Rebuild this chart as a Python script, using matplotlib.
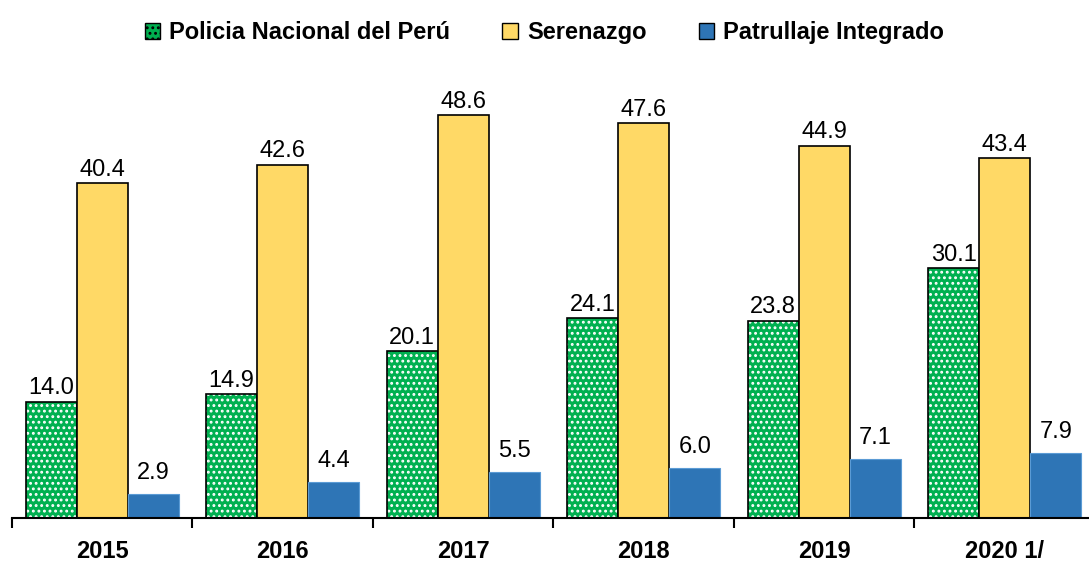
import numpy as np
import matplotlib.pyplot as plt
from matplotlib.patches import Patch

plt.rcParams['font.family'] = ['Liberation Sans Narrow', 'Liberation Sans', 'DejaVu Sans']
plt.rcParams['hatch.linewidth'] = 1.3

years = ['2015', '2016', '2017', '2018', '2019', '2020 1/']
pnp = [14.0, 14.9, 20.1, 24.1, 23.8, 30.1]
serenazgo = [40.4, 42.6, 48.6, 47.6, 44.9, 43.4]
patrullaje = [2.9, 4.4, 5.5, 6.0, 7.1, 7.9]

green = '#00B050'
yellow = '#FFD966'
blue = '#2E75B6'

fig = plt.figure(figsize=(10.89, 5.67), dpi=100)
ax = fig.add_axes([12/1089, 49/567, 1 - 12/1089, 456/567])

x = np.arange(len(years))
w = 0.283

# green bars with white dot pattern, then black outline on top
ax.bar(x - w, pnp, w, color=green, edgecolor='white', hatch='...', linewidth=0)
ax.bar(x - w, pnp, w, fill=False, edgecolor='black', linewidth=1.2)
ax.bar(x, serenazgo, w, color=yellow, edgecolor='black', linewidth=1.2)
ax.bar(x + w, patrullaje, w, color=blue, edgecolor='#5B9BD5', linewidth=0.8)

fs = 17
for i in range(len(years)):
    ax.text(x[i] - w, pnp[i] + 0.3, f'{pnp[i]:.1f}', ha='center', va='bottom', fontsize=fs)
    ax.text(x[i], serenazgo[i] + 0.3, f'{serenazgo[i]:.1f}', ha='center', va='bottom', fontsize=fs)
    ax.text(x[i] + w, patrullaje[i] + 1.2, f'{patrullaje[i]:.1f}', ha='center', va='bottom', fontsize=fs)

ax.set_xlim(-0.5, -0.5 + 1077 / 180.5)
ax.set_ylim(0, 55)
for s in ['top', 'right', 'left']:
    ax.spines[s].set_visible(False)
ax.spines['bottom'].set_linewidth(1.5)
ax.set_yticks([])
ax.set_xticks(np.arange(len(years)) - 0.5)
ax.set_xticklabels([])
ax.tick_params(axis='x', direction='out', length=7, width=1.5)
for i, y in enumerate(years):
    ax.text(x[i], -4.0, y, ha='center', va='center', fontsize=17, fontweight='bold')

handles = [
    Patch(facecolor=green, edgecolor='black', hatch='...', label='Policia Nacional del Perú'),
    Patch(facecolor=yellow, edgecolor='black', label='Serenazgo'),
    Patch(facecolor=blue, edgecolor='black', label='Patrullaje Integrado'),
]
fig.legend(handles=handles, loc='upper center', bbox_to_anchor=(0.5, 1.0), ncol=3,
           frameon=False, prop={'size': 17, 'weight': 'bold'},
           handlelength=0.65, handleheight=0.65, handletextpad=0.4, columnspacing=2.2)

fig.savefig('out.png', dpi=100)
